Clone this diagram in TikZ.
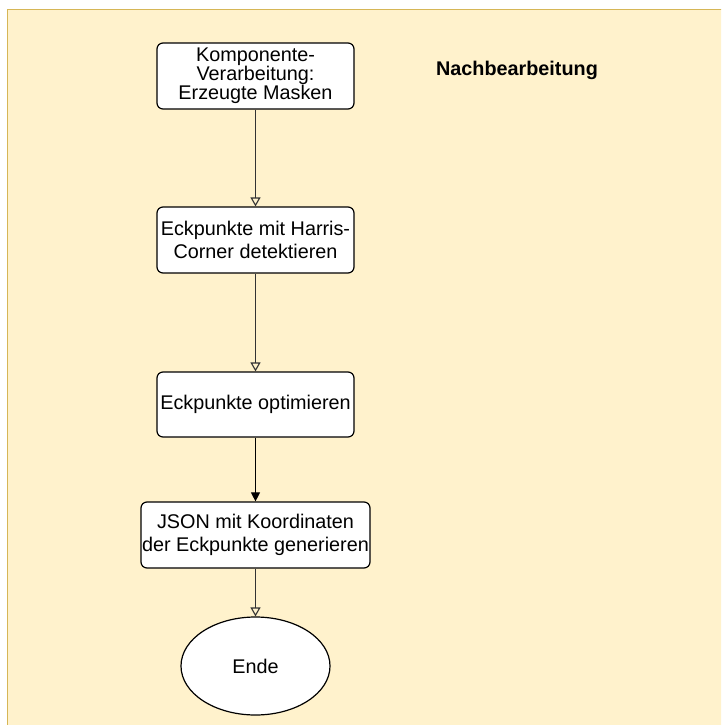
\documentclass[tikz,border=0pt]{standalone}
\usepackage{fontspec}
\setmainfont{Liberation Sans}
\usetikzlibrary{shapes.geometric,arrows.meta}
\definecolor{panelfill}{HTML}{FFF2CC}
\definecolor{panelline}{HTML}{D6B656}
\definecolor{inkline}{HTML}{333333}
\begin{document}
\begin{tikzpicture}[x=1pt,y=-1pt,
  stepbox/.style={draw=black,fill=white,rounded corners=6pt,line width=1.2pt,
    align=center,font=\fontsize{19.8}{22.5}\selectfont,inner sep=0pt},
  tightlines/.style={font=\fontsize{19.8}{19.2}\selectfont},
  endnode/.style={draw=black,fill=white,ellipse,line width=1.2pt,inner sep=0pt,
    font=\fontsize{19.8}{19.5}\selectfont},
  flow/.style={draw=inkline,line width=1.1pt,-{Triangle[open,length=9pt,width=10pt]}},
  flowsolid/.style={draw=black,line width=1.1pt,-{Triangle[length=9pt,width=9pt]}}]
  \useasboundingbox (0,0) rectangle (721,725);
  % panel, running off the right and bottom edges
  \begin{scope}
    \clip (0,0) rectangle (721,725);
    \draw[fill=panelfill,draw=panelline,line width=1pt] (7,10) rectangle (740,740);
  \end{scope}
  \node[stepbox,tightlines,minimum width=197pt,minimum height=66pt] (masks) at (255.5,76)
    {Komponente-\\Verarbeitung:\\Erzeugte Masken};
  \node[stepbox,minimum width=197pt,minimum height=66pt] (harris) at (255.5,240)
    {Eckpunkte mit Harris-\\Corner detektieren};
  \node[stepbox,minimum width=197pt,minimum height=65pt] (optim) at (255.5,404.5)
    {Eckpunkte optimieren};
  \node[stepbox,minimum width=229pt,minimum height=66pt] (json) at (255.5,535)
    {JSON mit Koordinaten\\der Eckpunkte generieren};
  \node[endnode,minimum width=149pt,minimum height=98pt] (ende) at (255.5,666) {Ende};
  \node[font=\fontsize{19.8}{19.5}\selectfont\bfseries] (title) at (517,70) {Nachbearbeitung};
  \draw[flow] (masks) -- (harris);
  \draw[flow] (harris) -- (optim);
  \draw[flowsolid] (optim) -- (json);
  \draw[flow] (json) -- (ende);
\end{tikzpicture}
\end{document}
